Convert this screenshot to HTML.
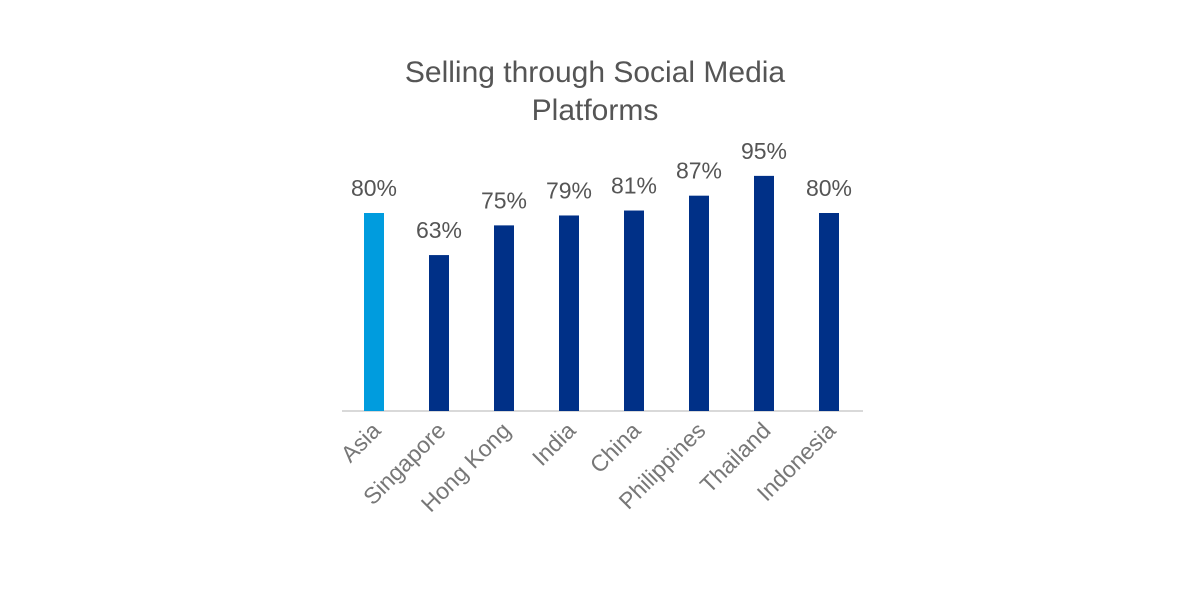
<!DOCTYPE html>
<html><head><meta charset="utf-8"><style>
body{margin:0;background:#fff;}
svg{display:block;font-family:"Liberation Sans",sans-serif;}
</style></head><body>
<svg id="chart" width="1200" height="600">
<text x="595" y="82" text-anchor="middle" font-size="30" fill="#555">Selling through Social Media</text>
<text x="595" y="120" text-anchor="middle" font-size="30" fill="#555">Platforms</text>
<line x1="342" y1="411" x2="863" y2="411" stroke="#d9d9d9" stroke-width="2"/>
<g id="bars"></g>
</svg>
<script>
const categories=["Asia","Singapore","Hong Kong","India","China","Philippines","Thailand","Indonesia"];
const values=[80,63,75,79,81,87,95,80];
const valueLabels=["80%","63%","75%","79%","81%","87%","95%","80%"];
const baseY=411, pxPer=2.475, x0=374, step=65, bw=20;
function xScale(i){return x0+i*step;}
function yScale(v){return baseY-v*pxPer;}
const g=document.getElementById('bars');
const ns="http://www.w3.org/2000/svg";
categories.forEach((c,i)=>{
  const cx=xScale(i), top=yScale(values[i]);
  const r=document.createElementNS(ns,'rect');
  r.setAttribute('x',cx-bw/2);r.setAttribute('y',top);
  r.setAttribute('width',bw);r.setAttribute('height',baseY-top);
  r.setAttribute('fill',i===0?'#009cde':'#003087');
  
  
  g.appendChild(r);
  const t=document.createElementNS(ns,'text');
  t.setAttribute('x',cx);t.setAttribute('y',top-17);
  t.setAttribute('text-anchor','middle');t.setAttribute('font-size','23');t.setAttribute('fill','#555');
  t.textContent=valueLabels[i];
  
  
  g.appendChild(t);
  const l=document.createElementNS(ns,'text');
  l.setAttribute('x',cx+8);l.setAttribute('y',432);
  l.setAttribute('text-anchor','end');l.setAttribute('font-size','23');l.setAttribute('fill','#777');
  l.setAttribute('transform','rotate(-45 '+(cx+8)+' 432)');
  l.textContent=c;
  
  
  g.appendChild(l);
});
</script>
</body></html>
